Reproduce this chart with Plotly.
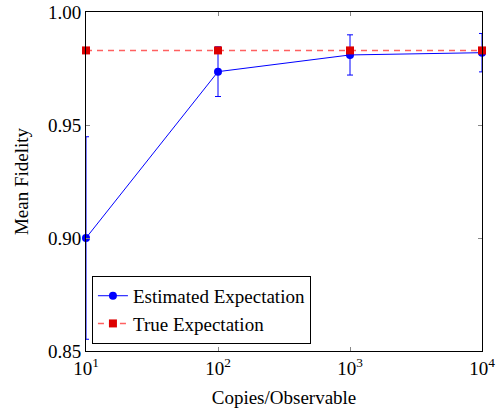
import plotly.graph_objects as go

copies = [10, 100, 1000, 10000]
est_fidelity = [0.900, 0.9736, 0.981, 0.982]
est_error = [0.0448, 0.011, 0.0089, 0.0085]
true_fidelity = [0.983, 0.983, 0.983, 0.983]
x_tick_vals = [10, 100, 1000, 10000]
x_tick_text = ["10<sup>1</sup>", "10<sup>2</sup>", "10<sup>3</sup>", "10<sup>4</sup>"]
y_tick_vals = [0.85, 0.90, 0.95, 1.00]
y_tick_text = ["0.85", "0.90", "0.95", "1.00"]

FONT = "Liberation Serif"
FS = 19

fig = go.Figure()
fig.add_trace(go.Scatter(
    x=copies, y=est_fidelity, mode="lines+markers", name="Estimated Expectation",
    line=dict(color="#0000ff", width=1),
    marker=dict(color="#0000ff", size=8, symbol="circle"),
    error_y=dict(type="data", array=est_error, color="#0000ff", thickness=1, width=3),
    cliponaxis=False,
))
fig.add_trace(go.Scatter(
    x=copies, y=true_fidelity, mode="lines+markers", name="True Expectation",
    line=dict(color="#ff6060", width=1.5, dash="6px,5px"),
    marker=dict(color="#dd0000", size=8, symbol="square"),
    cliponaxis=False,
))

fig.update_layout(
    width=500, height=411,
    margin=dict(l=86, r=18, t=12, b=60),
    paper_bgcolor="white", plot_bgcolor="white",
    font=dict(family=FONT, size=FS, color="black"),
    showlegend=True,
    legend=dict(
        x=0.015, y=0.021, xanchor="left", yanchor="bottom",
        bordercolor="black", borderwidth=1, bgcolor="white",
        font=dict(family=FONT, size=FS),
        tracegroupgap=0, itemwidth=30,
    ),
    xaxis=dict(
        type="log", range=[1, 4], automargin=False,
        tickvals=x_tick_vals, ticktext=x_tick_text,
        ticks="inside", ticklen=4, tickcolor="#888",
        showline=True, linecolor="black", linewidth=1, mirror="ticks",
        showgrid=False, zeroline=False,
        title=dict(text="Copies/Observable", font=dict(family=FONT, size=FS), standoff=12),
    ),
    yaxis=dict(
        range=[0.85, 1.00], automargin=False,
        tickvals=y_tick_vals, ticktext=y_tick_text,
        ticks="inside", ticklen=4, tickcolor="#888",
        showline=True, linecolor="black", linewidth=1, mirror="ticks",
        showgrid=False, zeroline=False,
        title=dict(text="Mean Fidelity", font=dict(family=FONT, size=FS), standoff=14),
    ),
)

fig.write_html(
    "out.html",
    config={"displayModeBar": False},
    post_script="document.body.style.margin='0';document.body.style.overflow='hidden';",
)
